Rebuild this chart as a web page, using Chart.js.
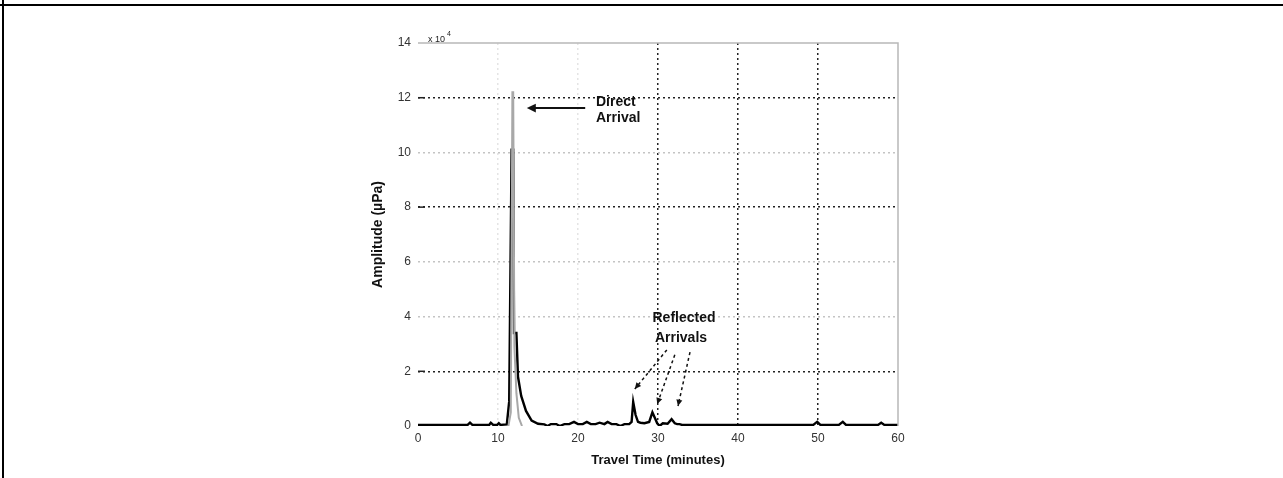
<!DOCTYPE html>
<html>
<head>
<meta charset="utf-8">
<title>Travel time amplitude</title>
<script src="https://cdn.jsdelivr.net/npm/chart.js@4/dist/chart.umd.min.js"></script>
<style>
  body { margin: 0; background: #fff; }
  #wrap { width: 1283px; height: 478px; }
</style>
</head>
<body>
<div id="wrap"><canvas id="ampChart" width="1283" height="478"></canvas></div>
<script>
// === Données ===
const xTicks = [0, 10, 20, 30, 40, 50, 60];
const yTicks = [0, 2, 4, 6, 8, 10, 12, 14];

// trace noire (x 10^4 µPa)
const traceTime = [0, 6.2, 6.5, 6.8, 8.9, 9.1, 9.4, 9.9, 10.1, 10.3,
  11.1, 11.4, 11.7, 11.9, 12.0, 12.3, 12.5, 12.9, 13.5, 14.2,
  15.0, 15.8, 16.2, 16.6, 17.3, 17.7, 18.3, 18.9, 19.5, 20.0,
  20.6, 21.1, 21.6, 22.2, 22.7, 23.3, 23.7, 24.2, 24.8, 25.3,
  25.8, 26.4, 26.7, 26.9, 27.2, 27.5, 27.8, 28.3, 28.9, 29.3,
  29.6, 29.9, 30.2, 30.6, 31.2, 31.7, 32.1, 32.4, 32.7, 33.0,
  33.3, 40.0, 49.4, 49.9, 50.3, 52.6, 53.1, 53.5, 57.5, 57.9,
  58.3, 60.0];
const traceAmp = [0.04, 0.04, 0.12, 0.04, 0.04, 0.12, 0.04, 0.04, 0.1, 0.04,
  0.06, 0.9, 10.1, 10.1, 3.4, 3.4, 1.8, 1.1, 0.55, 0.2,
  0.08, 0.06, 0.0, 0.07, 0.07, 0.0, 0.07, 0.07, 0.15, 0.07,
  0.07, 0.15, 0.07, 0.07, 0.12, 0.07, 0.15, 0.07, 0.07, 0.0,
  0.07, 0.07, 0.15, 0.88, 0.4, 0.15, 0.12, 0.1, 0.15, 0.5,
  0.3, 0.1, 0.0, 0.1, 0.08, 0.25, 0.1, 0.07, 0.07, 0.04,
  0.04, 0.04, 0.04, 0.15, 0.04, 0.04, 0.15, 0.04, 0.04, 0.12,
  0.04, 0.04];

// trace grise (sommet de l'arrivée directe)
const greyTime = [11.3, 11.6, 11.8, 11.9, 12.05, 12.3, 12.6, 13.0];
const greyAmp = [0.0, 0.5, 12.2, 12.2, 2.9, 1.2, 0.3, 0.0];

// annotations (coordonnées en unités des axes)
const directLabel = ['Direct', 'Arrival'];
const directText = [22.25, 11.84];
const directArrow = [20.9, 11.62, 13.6, 11.62];
const reflLabel = ['Reflected', 'Arrivals'];
const reflText = [33.25, 3.95];
const reflArrows = [
  [31.1, 2.78, 27.1, 1.35],
  [32.1, 2.6, 29.9, 0.8],
  [34.0, 2.7, 32.5, 0.73]
];

const FONT = '"Liberation Sans", Arial, sans-serif';

function toPoints(xs, ys) {
  return xs.map((x, i) => ({ x: x, y: ys[i] }));
}

function arrowHead(ctx, x1, y1, x2, y2, size) {
  const a = Math.atan2(y2 - y1, x2 - x1);
  ctx.beginPath();
  ctx.moveTo(x2, y2);
  ctx.lineTo(x2 - size * Math.cos(a - 0.45), y2 - size * Math.sin(a - 0.45));
  ctx.lineTo(x2 - size * Math.cos(a + 0.45), y2 - size * Math.sin(a + 0.45));
  ctx.closePath();
  ctx.fill();
}

// === Cadre, boîte et annotations ===
const decorPlugin = {
  id: 'decor',
  beforeDraw(chart) {
    const c = chart.ctx;
    c.save();
    c.fillStyle = '#fff';
    c.fillRect(0, 0, chart.width, chart.height);
    c.restore();
  },
  afterDraw(chart) {
    const c = chart.ctx;
    const xs = chart.scales.x, ys = chart.scales.y;
    const area = chart.chartArea;
    c.save();
    // cadre de page
    c.strokeStyle = '#000';
    c.lineWidth = 2;
    c.beginPath();
    c.moveTo(0, 5); c.lineTo(chart.width, 5);
    c.moveTo(3, 0); c.lineTo(3, chart.height);
    c.stroke();

    // haut et droite de la boîte
    c.strokeStyle = '#b8b8b8';
    c.lineWidth = 1.5;
    c.beginPath();
    c.moveTo(area.left, area.top); c.lineTo(area.right, area.top);
    c.lineTo(area.right, area.bottom);
    c.stroke();

    // petits traits de graduation foncés à gauche
    c.strokeStyle = '#222';
    c.lineWidth = 1.5;
    [2, 8, 12].forEach(v => {
      const y = ys.getPixelForValue(v);
      c.beginPath();
      c.moveTo(area.left, y); c.lineTo(area.left + 7, y);
      c.stroke();
    });

    // x 10^4
    c.fillStyle = '#222';
    c.font = '9px ' + FONT;
    c.textBaseline = 'alphabetic';
    c.textAlign = 'left';
    c.fillText('x 10', area.left + 10, area.top - 1);
    c.font = '7px ' + FONT;
    c.fillText('4', area.left + 29, area.top - 7);

    // Direct Arrival
    c.fillStyle = '#111';
    c.font = 'bold 14px ' + FONT;
    c.textBaseline = 'middle';
    const dx = xs.getPixelForValue(directText[0]);
    const dy = ys.getPixelForValue(directText[1]);
    c.fillText(directLabel[0], dx, dy);
    c.fillText(directLabel[1], dx, dy + 16);
    const ax1 = xs.getPixelForValue(directArrow[0]), ay1 = ys.getPixelForValue(directArrow[1]);
    const ax2 = xs.getPixelForValue(directArrow[2]), ay2 = ys.getPixelForValue(directArrow[3]);
    c.strokeStyle = '#111';
    c.lineWidth = 2;
    c.beginPath();
    c.moveTo(ax1, ay1); c.lineTo(ax2 + 6, ay2);
    c.stroke();
    arrowHead(c, ax1, ay1, ax2, ay2, 10);

    // Reflected Arrivals
    c.textAlign = 'center';
    const rx = xs.getPixelForValue(reflText[0]);
    const ry = ys.getPixelForValue(reflText[1]);
    c.fillText(reflLabel[0], rx, ry);
    c.fillText(reflLabel[1], rx - 3, ry + 20);
    c.lineWidth = 1.5;
    c.setLineDash([3, 3]);
    reflArrows.forEach(a => {
      const x1 = xs.getPixelForValue(a[0]), y1 = ys.getPixelForValue(a[1]);
      const x2 = xs.getPixelForValue(a[2]), y2 = ys.getPixelForValue(a[3]);
      c.beginPath();
      c.moveTo(x1, y1); c.lineTo(x2, y2);
      c.stroke();
    });
    c.setLineDash([]);
    reflArrows.forEach(a => {
      const x1 = xs.getPixelForValue(a[0]), y1 = ys.getPixelForValue(a[1]);
      const x2 = xs.getPixelForValue(a[2]), y2 = ys.getPixelForValue(a[3]);
      arrowHead(c, x1, y1, x2, y2, 7);
    });
    c.restore();
  }
};

function gridColour(value, axisMax, dark, faint) {
  if (value === 0 || value === axisMax) return 'transparent';
  return dark.includes(value) ? '#222' : faint;
}

const ctx = document.getElementById('ampChart').getContext('2d');
new Chart(ctx, {
  type: 'line',
  data: {
    datasets: [
      {
        label: 'grey',
        data: toPoints(greyTime, greyAmp),
        borderColor: '#a8a8a8',
        borderWidth: 2,
        pointRadius: 0,
        tension: 0
      },
      {
        label: 'trace',
        data: toPoints(traceTime, traceAmp),
        borderColor: '#000',
        borderWidth: 2.4,
        pointRadius: 0,
        tension: 0
      }
    ]
  },
  options: {
    responsive: false,
    animation: false,
    layout: { padding: { left: 350, right: 385, top: 43, bottom: 0 } },
    plugins: {
      legend: { display: false },
      tooltip: { enabled: false }
    },
    scales: {
      x: {
        type: 'linear',
        min: 0,
        max: 60,
        afterBuildTicks: s => { s.ticks = xTicks.map(v => ({ value: v })); },
        afterFit: s => { s.height = 52; },
        border: { display: false, dash: [2, 3] },
        grid: {
          drawTicks: false,
          lineWidth: 1.5,
          color: c => gridColour(c.tick ? c.tick.value : -1, 60, [30, 40, 50], '#e4e4e4')
        },
        ticks: {
          padding: 5,
          color: '#333',
          font: { family: FONT, size: 12 },
          maxRotation: 0
        },
        title: {
          display: true,
          text: 'Travel Time (minutes)',
          color: '#111',
          font: { family: FONT, size: 13, weight: 'bold' },
          padding: { top: 2, bottom: 10 }
        }
      },
      y: {
        type: 'linear',
        min: 0,
        max: 14,
        afterBuildTicks: s => { s.ticks = yTicks.map(v => ({ value: v })); },
        afterFit: s => { s.width = 68; },
        border: { display: false, dash: [2, 3] },
        grid: {
          drawTicks: false,
          lineWidth: 1.5,
          color: c => gridColour(c.tick ? c.tick.value : -1, 14, [2, 8, 12], '#c4c4c4')
        },
        ticks: {
          padding: 7,
          color: '#333',
          font: { family: FONT, size: 12 }
        },
        title: {
          display: true,
          text: 'Amplitude (µPa)',
          color: '#111',
          font: { family: FONT, size: 14, weight: 'bold' },
          padding: { top: 20, bottom: 4 }
        }
      }
    }
  },
  plugins: [decorPlugin]
});
</script>
</body>
</html>
